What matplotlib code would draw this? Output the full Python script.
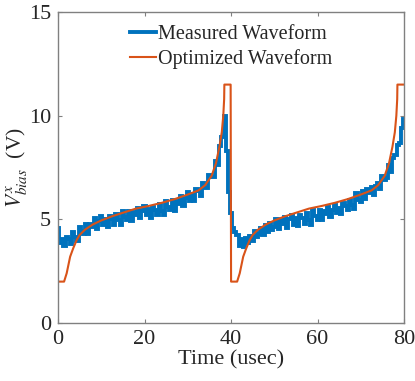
import matplotlib
matplotlib.use("Agg")
import matplotlib.pyplot as plt
import numpy as np

# Measured waveform sampled every 0.5 usec (0 .. 80)
meas_v = [
    # 0 .. 9.5
    4.6, 3.85, 4.05, 3.7, 4.15, 4.05, 3.8, 4.4, 4.15, 3.95,
    4.65, 4.42, 4.3, 4.8, 4.3, 4.8, 4.65, 5.05, 4.55, 4.92,
    # 10 .. 19.5
    5.15, 4.72, 5.0, 4.62, 5.15, 5.02, 4.75, 5.27, 4.95, 4.72,
    5.4, 5.12, 4.95, 5.42, 4.9, 5.37, 5.2, 5.57, 5.05, 5.42,
    # 20 .. 29.5
    5.65, 5.21, 5.48, 5.09, 5.6, 5.47, 5.2, 5.72, 5.4, 5.19,
    5.88, 5.61, 5.45, 5.94, 5.42, 5.91, 5.75, 6.15, 5.65, 6.05,
    # 30 .. 39.5
    6.3, 5.91, 6.22, 5.88, 6.45, 6.37, 6.15, 6.75, 6.5, 6.52,
    7.15, 7.03, 7.05, 7.8, 7.6, 8.55, 8.95, 10.0, 8.3, 6.3,
    # 40 .. 49.5
    5.3, 4.6, 4.4, 4.25, 3.7, 4.05, 3.65, 4.1, 3.85, 4.2,
    3.95, 4.45, 4.15, 4.3, 4.6, 4.25, 4.75, 4.4, 4.85, 4.5,
    # 50 .. 59.5
    4.65, 5.0, 4.55, 4.95, 4.8, 5.1, 4.6, 5.0, 5.2, 4.75,
    5.05, 4.7, 5.2, 5.05, 4.8, 5.3, 4.95, 4.75, 5.45, 5.15,
    # 60 .. 69.5
    4.95, 5.45, 4.95, 5.4, 5.25, 5.6, 5.1, 5.45, 5.7, 5.3,
    5.55, 5.25, 5.8, 5.65, 5.45, 5.95, 5.7, 5.5, 6.25, 5.95,
    # 70 .. 80
    5.85, 6.35, 6.0, 6.45, 6.25, 6.55, 6.2, 6.6, 6.75, 6.45,
    7.1, 6.9, 7.0, 7.6, 7.3, 7.95, 8.1, 8.6, 8.7, 9.4,
    9.85,
]
meas_t = np.arange(len(meas_v)) * 0.5

# Optimized waveform
opt_t = [
    0.0, 1.4, 2.0, 2.8, 3.5, 4.3, 5.0, 6.2, 8.0, 10.0, 12.5, 15.0, 18.0,
    21.0, 24.0, 27.0, 30.0, 32.5, 34.0, 35.5, 36.5, 37.3, 37.85, 38.2,
    38.4, 38.45, 39.9, 40.0,
    41.4, 42.0, 42.8, 43.5, 44.3, 45.0, 46.2, 48.0, 50.0, 52.5, 55.0, 58.0,
    61.0, 64.0, 67.0, 70.0, 72.5, 74.0, 75.5, 76.5, 77.3, 77.85, 78.2,
    78.4, 78.45, 80.0,
]
opt_v = [
    2.0, 2.0, 2.4, 3.2, 3.6, 4.0, 4.25, 4.5, 4.75, 4.95, 5.15, 5.32, 5.52,
    5.65, 5.8, 5.98, 6.2, 6.4, 6.65, 7.1, 7.7, 8.5, 9.2, 10.0,
    10.8, 11.5, 11.5, 2.0,
    2.0, 2.4, 3.2, 3.6, 4.0, 4.25, 4.5, 4.75, 4.95, 5.15, 5.32, 5.52,
    5.65, 5.8, 5.98, 6.2, 6.4, 6.65, 7.1, 7.7, 8.5, 9.2, 10.0,
    10.8, 11.5, 11.5,
]

x_ticks = [0, 20, 40, 60, 80]
y_ticks = [0, 5, 10, 15]

plt.rcParams['font.family'] = ['Liberation Serif', 'DejaVu Serif']
plt.rcParams['mathtext.fontset'] = 'stix'

fig = plt.figure(figsize=(4.15, 3.81), dpi=100)
ax = fig.add_axes([0.1398, 0.152, 0.834, 0.8165])

ax.plot(meas_t, meas_v, color='#0072BD', lw=2.8, drawstyle='steps-mid',
        solid_joinstyle='miter', label='Measured Waveform')
ax.plot(opt_t, opt_v, color='#D95319', lw=1.5, label='Optimized Waveform')

ax.set_xlim(0, 80)
ax.set_ylim(0, 15)
ax.set_xticks(x_ticks)
ax.set_yticks(y_ticks)

axis_col = '#808080'
for s in ax.spines.values():
    s.set_color(axis_col)
    s.set_linewidth(1.0)
ax.tick_params(direction='in', length=3, width=0.8, color=axis_col,
               top=True, right=True, labelsize=16, labelcolor='#262626', pad=5)

ax.set_xlabel('Time (usec)', fontsize=16, color='#262626', labelpad=1)
ax.set_ylabel(r'$V_{bias}^{x}$  (V)', fontsize=15.5, color='#262626', labelpad=0)

leg = ax.legend(loc='upper left', bbox_to_anchor=(0.17, 1.0), frameon=False,
                fontsize=14.5, handlelength=1.3, handletextpad=0.1,
                labelspacing=0.25, borderaxespad=0.45, borderpad=0.2)
for t in leg.get_texts():
    t.set_color('#262626')

fig.savefig('out.png', dpi=100)
